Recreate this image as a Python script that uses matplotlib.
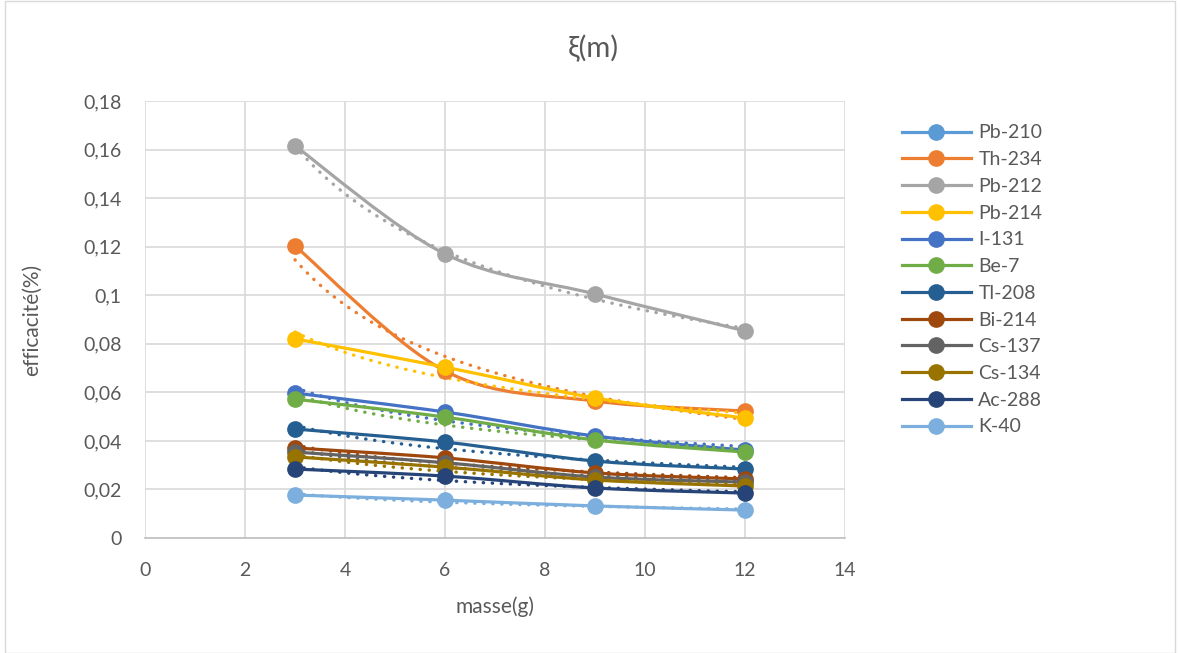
import numpy as np
import matplotlib.pyplot as plt
from matplotlib.path import Path
from matplotlib.patches import PathPatch, Rectangle
from matplotlib.lines import Line2D

masse = [3, 6, 9, 12]
nuclides = ['Pb-210', 'Th-234', 'Pb-212', 'Pb-214', 'I-131', 'Be-7',
            'Tl-208', 'Bi-214', 'Cs-137', 'Cs-134', 'Ac-288', 'K-40']
pb210 = [np.nan, np.nan, np.nan, np.nan]
th234 = [0.1203, 0.0688, 0.0564, 0.0523]
pb212 = [0.1615, 0.1170, 0.1005, 0.0853]
pb214 = [0.0820, 0.0704, 0.0577, 0.0494]
i131 = [0.0597, 0.0519, 0.0420, 0.0362]
be7 = [0.0572, 0.0498, 0.0404, 0.0354]
tl208 = [0.0449, 0.0395, 0.0317, 0.0284]
bi214 = [0.0371, 0.0330, 0.0268, 0.0243]
cs137 = [0.0354, 0.0310, 0.0251, 0.0230]
cs134 = [0.0334, 0.0292, 0.0239, 0.0214]
ac288 = [0.0284, 0.0255, 0.0206, 0.0185]
k40 = [0.0177, 0.0156, 0.0132, 0.0115]
series = [pb210, th234, pb212, pb214, i131, be7, tl208, bi214, cs137, cs134, ac288, k40]
colors = ['#5B9BD5', '#ED7D31', '#A5A5A5', '#FFC000', '#4472C4', '#70AD47',
          '#255E91', '#9E480E', '#636363', '#997300', '#264478', '#7CAFDD']

txt = '#595959'
plt.rcParams['font.family'] = ['Lato', 'DejaVu Sans']

fig = plt.figure(figsize=(11.8, 6.53), dpi=100)
ax = fig.add_axes([145 / 1180, 1 - 538 / 653, 700 / 1180, 437 / 653])


def smooth_path(x, y):
    # Excel-like smoothed line: cubic Bezier through the points
    pts = np.column_stack([x, y])
    ext = np.vstack([pts[0], pts, pts[-1]])
    verts = [pts[0]]
    codes = [Path.MOVETO]
    for i in range(len(pts) - 1):
        p0, p1, p2, p3 = ext[i], ext[i + 1], ext[i + 2], ext[i + 3]
        verts += [p1 + (p2 - p0) / 6, p2 - (p3 - p1) / 6, p2]
        codes += [Path.CURVE4] * 3
    return Path(verts, codes)


handles = []
xs = np.array(masse, float)
for name, vals, c in zip(nuclides, series, colors):
    v = np.array(vals, float)
    handles.append(Line2D([], [], color=c, lw=2.3, marker='o', ms=11, label=name))
    if np.all(np.isnan(v)):
        continue
    ax.add_patch(PathPatch(smooth_path(xs, v), fill=False, edgecolor=c, lw=2.3,
                           capstyle='round', zorder=3))
    ax.plot(xs, v, 'o', color=c, ms=11, zorder=4)
    # power trendline
    b, a = np.polyfit(np.log(xs), np.log(v), 1)
    xt = np.linspace(3, 12, 100)
    ax.plot(xt, np.exp(a) * xt ** b, ls=(0, (0.1, 2.6)), color=c, lw=2.4,
            dash_capstyle='round', zorder=3)


def fmt(t):
    s = ('%.2f' % t).rstrip('0').rstrip('.')
    return s.replace('.', ',')


yt = np.round(np.arange(0, 0.181, 0.02), 2)
ax.set_xlim(0, 14)
ax.set_ylim(0, 0.18)
ax.set_xticks(range(0, 15, 2))
ax.set_yticks(yt)
ax.set_yticklabels([fmt(t) for t in yt])
ax.grid(True, color='#D9D9D9', lw=1.2)
ax.set_axisbelow(True)
for s in ['top', 'right', 'left']:
    ax.spines[s].set_visible(False)
ax.spines['bottom'].set_color('#BFBFBF')
ax.spines['bottom'].set_linewidth(1.2)
ax.tick_params(length=0, labelsize=14, colors=txt)
ax.tick_params(axis='x', pad=17)
ax.tick_params(axis='y', pad=17)
ax.set_xlabel('masse(g)', fontsize=15, color=txt, va='center')
ax.set_ylabel('efficacité(%)', fontsize=15, color=txt, va='center')
ax.xaxis.set_label_coords(0.5, (538 - 607) / 437)
ax.yaxis.set_label_coords((32 - 145) / 700, 0.5)
fig.text(593 / 1180, 1 - 48 / 653, 'ξ(m)', ha='center', va='center', fontsize=21, color=txt)

fig.legend(handles=handles, loc='upper left', bbox_to_anchor=(884 / 1180, 1 - 107 / 653),
           frameon=False, fontsize=14, labelcolor=txt, handlelength=3.55,
           labelspacing=0.5, handletextpad=0.4)

fig.patches.append(Rectangle((5 / 1180, 0), 1170 / 1180, 0.998, transform=fig.transFigure,
                             fill=False, edgecolor='#D9D9D9', lw=1))
fig.savefig('out.png', dpi=100)
